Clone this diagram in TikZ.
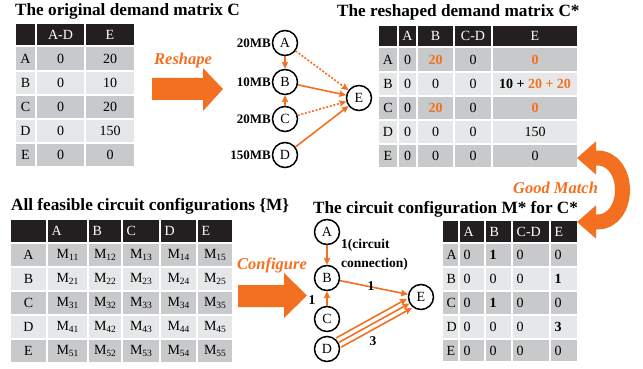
\documentclass[tikz,border=0pt]{standalone}
\usepackage{fontspec}
\setmainfont{Liberation Serif}
\usetikzlibrary{arrows.meta}
\definecolor{org}{RGB}{243,112,33}
\definecolor{hdr}{RGB}{35,31,32}
\definecolor{drk}{RGB}{200,201,203}
\definecolor{lgt}{RGB}{230,231,232}
\newcommand\msub[1]{M\raisebox{-2.8pt}{\fontsize{9.5}{10}\selectfont #1}}
\newcommand\ob[1]{\textbf{\color{org}#1}}
% #1 name, #2 y1, #3 y2, #4 fill, #5 text colour, #6 mode (0 centre, 1 left), #7 list xa/xb/text
\newcommand\trow[7]{%
  \foreach \xa/\xb/\tx [count=\k] in {#7} {%
    \path[fill=#4, draw=white, line width=1.3pt] (\xa,#2) rectangle (\xb,#3);
    \ifnum#6=1
      \node[ctext, text=#5, anchor=west] (#1-\k) at ({\xa+4.5},{(#2+#3)/2}) {\tx};
    \else
      \node[ctext, text=#5] (#1-\k) at ({(\xa+\xb)/2},{(#2+#3)/2}) {\tx};
    \fi
  }}
\begin{document}
\begin{tikzpicture}[x=1pt,y=-1pt,
  ttl/.style={font=\fontsize{17.2}{19}\selectfont\bfseries, anchor=base west, inner sep=0},
  ctext/.style={font=\fontsize{14}{16}\selectfont, inner sep=0},
  gnode/.style={circle, draw=black, line width=1.5pt, minimum size=25pt, inner sep=0, font=\fontsize{14}{16}\selectfont},
  oedge/.style={draw=org, line width=1.6pt, -{Stealth[length=7pt,width=6.5pt,inset=1.2pt]}},
  odot/.style={oedge, dash pattern=on 2pt off 1.7pt},
  mb/.style={font=\fontsize{13}{15}\selectfont\bfseries, anchor=east, inner sep=0},
  olab/.style={font=\fontsize{16.5}{18}\selectfont\bfseries\itshape, text=org, inner sep=0, anchor=base west},
  elab/.style={font=\fontsize{13.5}{15}\selectfont\bfseries, inner sep=0},
  bigarrow/.style={fill=org, draw=none}]
\useasboundingbox (0,0) rectangle (643,369);

% ---------- titles ----------
\node[ttl] (ti1) at (15,16) {The original demand matrix C};
\node[ttl] (ti2) at (337,17) {The reshaped demand matrix C*};
\node[ttl] (ti3) at (11,210) {All feasible circuit configurations \{M\}};
\node[ttl] (ti4) at (313,213) {The circuit configuration M* for C*};

% ---------- table 1 ----------
\trow{t1h}{23}{46}{hdr}{white}{0}{15/36/{}, 36/85/{A-D}, 85/135/E}
\trow{t1a}{46}{71}{drk}{black}{0}{15/36/A, 36/85/0, 85/135/20}
\trow{t1b}{71}{95}{lgt}{black}{0}{15/36/B, 36/85/0, 85/135/10}
\trow{t1c}{95}{119}{drk}{black}{0}{15/36/C, 36/85/0, 85/135/20}
\trow{t1d}{119}{143}{lgt}{black}{0}{15/36/D, 36/85/0, 85/135/150}
\trow{t1e}{143}{167}{drk}{black}{0}{15/36/E, 36/85/0, 85/135/0}

% ---------- table 2 ----------
\trow{t2h}{25}{47}{hdr}{white}{0}{378/398/{}, 398/417/A, 417/454/B, 454/492/{C-D}, 492/578/E}
\trow{t2a}{47}{72}{drk}{black}{0}{378/398/A, 398/417/0, 417/454/{\ob{20}}, 454/492/0, 492/578/{\ob{0}}}
\trow{t2b}{72}{96}{lgt}{black}{0}{378/398/B, 398/417/0, 417/454/0, 454/492/0, 492/578/{\textbf{10 + {\color{org}20 + 20}}}}
\trow{t2c}{96}{120}{drk}{black}{0}{378/398/C, 398/417/0, 417/454/{\ob{20}}, 454/492/0, 492/578/{\ob{0}}}
\trow{t2d}{120}{144}{lgt}{black}{0}{378/398/D, 398/417/0, 417/454/0, 454/492/0, 492/578/150}
\trow{t2e}{144}{168}{drk}{black}{0}{378/398/E, 398/417/0, 417/454/0, 454/492/0, 492/578/0}

% ---------- table 3 ----------
\trow{t3h}{219}{243}{hdr}{white}{1}{10/47/{}, 47/88/A, 88/122/B, 122/160/C, 160/197/D, 197/233/E}
\trow{t3a}{243}{267}{drk}{black}{0}{10/47/A, 47/88/{\msub{11}}, 88/122/{\msub{12}}, 122/160/{\msub{13}}, 160/197/{\msub{14}}, 197/233/{\msub{15}}}
\trow{t3b}{267}{291}{lgt}{black}{0}{10/47/B, 47/88/{\msub{21}}, 88/122/{\msub{22}}, 122/160/{\msub{23}}, 160/197/{\msub{24}}, 197/233/{\msub{25}}}
\trow{t3c}{291}{315}{drk}{black}{0}{10/47/C, 47/88/{\msub{31}}, 88/122/{\msub{32}}, 122/160/{\msub{33}}, 160/197/{\msub{34}}, 197/233/{\msub{35}}}
\trow{t3d}{315}{339}{lgt}{black}{0}{10/47/D, 47/88/{\msub{41}}, 88/122/{\msub{42}}, 122/160/{\msub{43}}, 160/197/{\msub{44}}, 197/233/{\msub{45}}}
\trow{t3e}{339}{363}{drk}{black}{0}{10/47/E, 47/88/{\msub{51}}, 88/122/{\msub{52}}, 122/160/{\msub{53}}, 160/197/{\msub{54}}, 197/233/{\msub{55}}}

% ---------- table 4 ----------
\trow{t4h}{220}{243}{hdr}{white}{1}{442/459/{}, 459/485/A, 485/512/B, 512/550/{C-D}, 550/578/E}
\trow{t4a}{243}{267}{drk}{black}{1}{442/459/A, 459/485/0, 485/512/{\textbf{1}}, 512/550/0, 550/578/0}
\trow{t4b}{267}{291}{lgt}{black}{1}{442/459/B, 459/485/0, 485/512/0, 512/550/0, 550/578/{\textbf{1}}}
\trow{t4c}{291}{315}{drk}{black}{1}{442/459/C, 459/485/0, 485/512/{\textbf{1}}, 512/550/0, 550/578/0}
\trow{t4d}{315}{339}{lgt}{black}{1}{442/459/D, 459/485/0, 485/512/0, 512/550/0, 550/578/{\textbf{3}}}
\trow{t4e}{339}{362}{drk}{black}{1}{442/459/E, 459/485/0, 485/512/0, 512/550/0, 550/578/0}

% ---------- big arrows ----------
\node[olab] (reshape) at (154,65) {Reshape};
\fill[bigarrow] (152,78) -- (203,78) -- (203,68) -- (223,89) -- (203,111) -- (203,100) -- (152,100) -- cycle;
\node[olab] (configure) at (237,269) {Configure};
\fill[bigarrow] (238,285) -- (284,285) -- (284,273) -- (307,295.5) -- (284,318) -- (284,307) -- (238,307) -- cycle;
\node[olab] (goodmatch) at (513,193) {Good Match};
\draw[org, line width=15pt, {Triangle[length=19pt,width=32pt]}-{Triangle[length=19pt,width=32pt]}]
  (577,158) -- (597,158) .. controls (631,158) and (631,222) .. (597,222) -- (577,222);

% ---------- graph 1 ----------
\node[gnode] (a1) at (285,43) {A};
\node[gnode] (b1) at (285,82) {B};
\node[gnode] (c1) at (285,119) {C};
\node[gnode] (d1) at (285,155) {D};
\node[gnode] (e1) at (359,98) {E};
\node[mb] (la1) at (271,43) {20MB};
\node[mb] (lb1) at (271,82) {10MB};
\node[mb] (lc1) at (271,119) {20MB};
\node[mb] (ld1) at (271,155) {150MB};
\draw[oedge] (a1) -- (b1);
\draw[oedge] (c1) -- (b1);
\draw[odot] (a1) -- (e1);
\draw[oedge] (b1) -- (e1);
\draw[odot] (c1) -- (e1);
\draw[oedge] (d1) -- (e1);

% ---------- graph 2 ----------
\node[gnode] (a2) at (327,232) {A};
\node[gnode] (b2) at (327,278) {B};
\node[gnode] (c2) at (327,319) {C};
\node[gnode] (d2) at (327,349) {D};
\node[gnode] (e2) at (421,297) {E};
\draw[oedge] (a2) -- (b2);
\draw[oedge] (c2) -- (b2);
\draw[oedge] (b2) -- (e2);
\draw[oedge] (d2) -- (e2);
\draw[oedge, transform canvas={xshift=2.5pt, yshift=-4.6pt}] (d2) -- (e2);
\draw[oedge, transform canvas={xshift=-2.5pt, yshift=4.6pt}] (d2) -- (e2);
\node[elab, anchor=base west] (l1) at (341,248) {1(circuit};
\node[elab, anchor=base west] (l2) at (341,267) {connection)};
\node[elab] (l3) at (371,286) {1};
\node[elab] (l4) at (312,300) {1};
\node[elab] (l5) at (373,341) {3};
\end{tikzpicture}
\end{document}
